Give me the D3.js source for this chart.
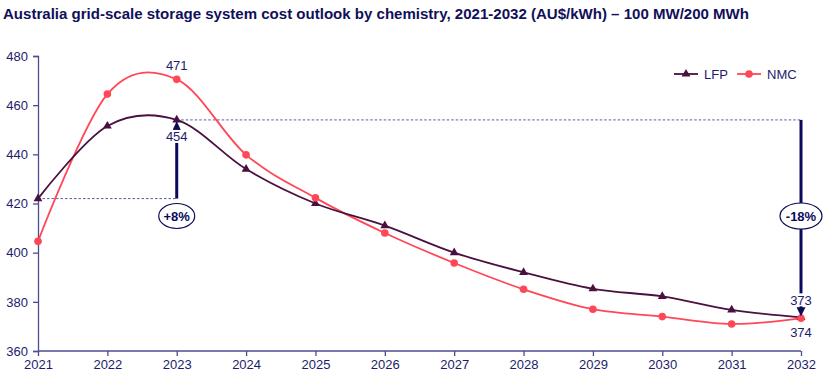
<!DOCTYPE html>
<html><head><meta charset="utf-8">
<script src="https://cdn.jsdelivr.net/npm/d3@7"></script>
<style>body{margin:0;background:#fff}svg{display:block}</style>
</head><body>
<svg id="c" width="833" height="388"></svg>
<script>
const years = [2021,2022,2023,2024,2025,2026,2027,2028,2029,2030,2031,2032];
const lfp = [422,451.5,454,434,420,411,400,392,385.3,382.2,376.7,373.7];
const nmc = [404.6,464.5,470.5,439.8,422.3,408,395.8,385.1,377,374,371,373.3];
const yTicks = [360,380,400,420,440,460,480];
const seriesNames = ["LFP","NMC"];
const labels = {peak:"471", lfp2023:"454", end1:"373", end2:"374", up:"+8%", down:"-18%"};

const svg = d3.select("#c");
const navy = "#1c1c6c", axisC = "#4c4c90", dark = "#0a0a5a";
const cL = "#4a1040", cN = "#ff4757";
const x = d3.scalePoint().domain(years).range([38,801]);
const y = d3.scaleLinear().domain([360,480]).range([351,56]);
const font = "'Liberation Sans', Arial, sans-serif";

svg.append("text").attr("x",3).attr("y",18.5).attr("font-family",font)
  .attr("font-weight","bold").attr("font-size",15).attr("fill","#10105a")
  .attr("textLength",746).attr("lengthAdjust","spacingAndGlyphs")
  .text("Australia grid-scale storage system cost outlook by chemistry, 2021-2032 (AU$/kWh) – 100 MW/200 MWh");

// axes
const ya = svg.append("g").attr("transform","translate(38,0)")
  .call(d3.axisLeft(y).tickValues(yTicks).tickSize(5).tickPadding(5).tickFormat(d3.format("d")));
const xa = svg.append("g").attr("transform","translate(0,351)")
  .call(d3.axisBottom(x).tickSize(5).tickPadding(4).tickFormat(d3.format("d")));
[ya,xa].forEach(a=>{
  a.select(".domain").attr("stroke",axisC).attr("stroke-width",1.3);
  a.selectAll(".tick line").attr("stroke",axisC).attr("stroke-width",1.3);
  a.selectAll("text").attr("fill",navy).attr("font-family",font).attr("font-size",13);
});
xa.select(".domain").attr("d","M"+x(2021)+",0H"+x(2032));

// dotted reference lines
svg.append("line").attr("x1",x(2021)).attr("x2",x(2023)).attr("y1",y(lfp[0])).attr("y2",y(lfp[0]))
  .attr("stroke","#5a5aa8").attr("stroke-width",1).attr("stroke-dasharray","2.5,2");
svg.append("line").attr("x1",x(2023)).attr("x2",x(2032)).attr("y1",y(lfp[2])).attr("y2",y(lfp[2]))
  .attr("stroke","#5a5aa8").attr("stroke-width",1).attr("stroke-dasharray","2.5,2");

// lines
const line = d3.line().x((d,i)=>x(years[i])).y(d=>y(d)).curve(d3.curveCardinal.tension(0));
svg.append("path").datum(nmc).attr("d",line).attr("fill","none").attr("stroke",cN).attr("stroke-width",1.8);
svg.append("path").datum(lfp).attr("d",line).attr("fill","none").attr("stroke",cL).attr("stroke-width",1.8);
const tri = d3.symbol().type(d3.symbolTriangle).size(34);
svg.selectAll(".m1").data(lfp).join("path").attr("d",tri)
  .attr("transform",(d,i)=>`translate(${x(years[i])},${y(d)})`).attr("fill",cL);
svg.selectAll(".m2").data(nmc).join("circle").attr("cx",(d,i)=>x(years[i])).attr("cy",d=>y(d)).attr("r",3.8).attr("fill",cN);

// up arrow at 2023
const ax1 = x(2023);
svg.append("line").attr("x1",ax1).attr("x2",ax1).attr("y1",y(lfp[0])).attr("y2",y(lfp[2])+8)
  .attr("stroke",dark).attr("stroke-width",3);
svg.append("path").attr("d",`M${ax1-4.5},${y(lfp[2])+11}L${ax1+4.5},${y(lfp[2])+11}L${ax1},${y(lfp[2])+1}Z`).attr("fill",dark);
svg.append("rect").attr("x",ax1-12).attr("y",y(lfp[2])+10).attr("width",24).attr("height",13).attr("fill","#fff");
svg.append("text").attr("x",ax1).attr("y",y(lfp[2])+21).attr("text-anchor","middle").attr("font-family",font)
  .attr("font-size",13).attr("fill",navy).text(labels.lfp2023);
svg.append("text").attr("x",ax1).attr("y",y(nmc[2])-9).attr("text-anchor","middle").attr("font-family",font)
  .attr("font-size",13).attr("fill",navy).text(labels.peak);
svg.append("ellipse").attr("cx",ax1).attr("cy",216).attr("rx",18).attr("ry",12.5).attr("fill","#fff").attr("stroke",dark).attr("stroke-width",1.2);
svg.append("text").attr("x",ax1).attr("y",221).attr("text-anchor","middle").attr("font-family",font)
  .attr("font-size",13).attr("font-weight","bold").attr("fill",dark).text(labels.up);

// down arrow at 2032
const ax2 = x(2032);
const yEnd = y(lfp[11]);
svg.append("line").attr("x1",ax2).attr("x2",ax2).attr("y1",y(lfp[2])).attr("y2",yEnd-8)
  .attr("stroke",dark).attr("stroke-width",3);
svg.append("rect").attr("x",ax2-13).attr("y",yEnd-24).attr("width",26).attr("height",13).attr("fill","#fff");
svg.append("text").attr("x",ax2).attr("y",yEnd-12).attr("text-anchor","middle").attr("font-family",font)
  .attr("font-size",13).attr("fill",navy).text(labels.end1);
svg.append("path").attr("d",`M${ax2-4.5},${yEnd-10}L${ax2+4.5},${yEnd-10}L${ax2},${yEnd-1}Z`).attr("fill",dark);
svg.append("text").attr("x",ax2).attr("y",yEnd+20).attr("text-anchor","middle").attr("font-family",font)
  .attr("font-size",13).attr("fill",navy).text(labels.end2);
svg.append("ellipse").attr("cx",ax2).attr("cy",216).attr("rx",21).attr("ry",13).attr("fill","#fff").attr("stroke",dark).attr("stroke-width",1.2);
svg.append("text").attr("x",ax2).attr("y",221).attr("text-anchor","middle").attr("font-family",font)
  .attr("font-size",13).attr("font-weight","bold").attr("fill",dark).text(labels.down);

// legend
const lg = svg.append("g").attr("transform","translate(674,74)");
[[cL,"tri",0],[cN,"circ",63]].forEach(([c,t,dx],i)=>{
  const g = lg.append("g").attr("transform",`translate(${dx},0)`);
  g.append("line").attr("x1",0).attr("x2",24).attr("stroke",c).attr("stroke-width",1.8);
  if(t==="tri") g.append("path").attr("d",tri).attr("transform","translate(12,0)").attr("fill",c);
  else g.append("circle").attr("cx",12).attr("r",3.8).attr("fill",c);
  g.append("text").attr("x",30).attr("y",5).attr("font-family",font).attr("font-size",13).attr("fill",navy).text(seriesNames[i]);
});
</script>
</body></html>
